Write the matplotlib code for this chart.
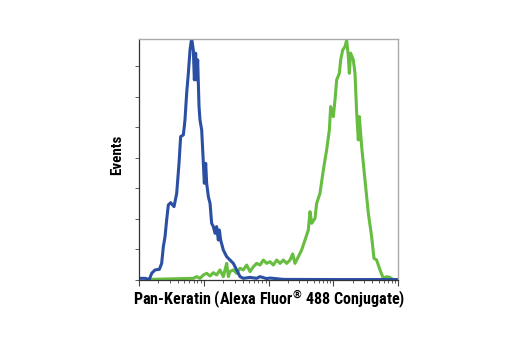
import matplotlib
matplotlib.use("Agg")
import matplotlib.pyplot as plt
from matplotlib import font_manager
import numpy as np

# Log10 fluorescence intensity and event counts
blue_log = [0.015, 0.093, 0.160, 0.196, 0.247, 0.314, 0.350, 0.376, 0.402, 0.427, 0.453, 0.489,
            0.541, 0.582, 0.618, 0.643, 0.685, 0.710, 0.736, 0.762, 0.788, 0.813, 0.839, 0.855,
            0.875, 0.891, 0.906, 0.927, 0.942, 0.968, 0.994, 1.009, 1.030, 1.045, 1.071, 1.097,
            1.122, 1.148, 1.174, 1.199, 1.225, 1.241, 1.261, 1.302, 1.354, 1.405, 1.457, 1.508,
            1.560, 1.611, 1.714, 1.817, 1.869, 1.972, 2.023, 2.229, 3.0, 4.0]
blue_counts = [1.1, 1.1, 0.4, 4.4, 6.6, 7.0, 10.9, 21.9, 28.4, 39.3, 49.2, 50.7,
               48.1, 56.8, 76.5, 94.0, 95.1, 104.9, 122.4, 135.5, 150.8, 158.5, 150.8, 131.2,
               148.7, 131.2, 144.3, 113.7, 104.9, 98.4, 76.5, 63.4, 76.5, 63.4, 54.7, 50.3,
               37.2, 35.0, 30.6, 35.0, 26.2, 32.8, 26.2, 19.7, 15.3, 13.1, 10.9, 6.6,
               2.2, 1.1, 1.7, 1.1, 2.2, 0.9, 1.3, 0.4, 0.3, 0.3]

green_log = [0.160, 0.839, 0.891, 0.942, 0.994, 1.045, 1.097, 1.148, 1.199, 1.251, 1.302, 1.328,
             1.354, 1.380, 1.405, 1.457, 1.508, 1.560, 1.611, 1.663, 1.714, 1.766, 1.817, 1.869,
             1.920, 1.972, 2.023, 2.075, 2.126, 2.178, 2.229, 2.281, 2.332, 2.373, 2.409, 2.461,
             2.512, 2.564, 2.615, 2.641, 2.667, 2.718, 2.744, 2.795, 2.847, 2.898, 2.940, 2.960,
             3.001, 3.027, 3.053, 3.094, 3.115, 3.146, 3.182, 3.207, 3.233, 3.248, 3.269, 3.310,
             3.336, 3.362, 3.387, 3.403, 3.439, 3.490, 3.542, 3.593, 3.629, 3.670, 3.722, 3.773,
             3.825, 3.876, 3.918]
green_counts = [0.4, 1.1, 2.2, 1.1, 3.3, 4.4, 2.6, 4.8, 3.3, 6.6, 2.2, 6.6,
                10.9, 2.2, 5.5, 6.6, 4.4, 7.7, 6.6, 9.8, 5.5, 8.7, 10.9, 9.8,
                13.1, 10.9, 12.0, 9.8, 13.1, 10.9, 13.1, 10.9, 13.1, 17.1, 10.9, 15.3,
                19.7, 26.2, 32.8, 44.8, 37.2, 40.4, 50.3, 56.8, 72.1, 85.3, 98.4, 113.7,
                107.1, 118.0, 131.2, 135.5, 144.3, 150.8, 153.0, 157.4, 146.5, 135.5, 148.7, 144.3,
                135.5, 109.3, 91.8, 107.1, 87.4, 65.6, 43.7, 28.4, 14.2, 13.1, 6.6, 1.1,
                2.2, 1.7, 0.4]

x_label = "Pan-Keratin (Alexa Fluor$^{\u00ae}$ 488 Conjugate)"
y_label = "Events"

fam = ["Roboto Condensed", "DejaVu Sans"]
plt.rcParams["mathtext.fontset"] = "custom"
plt.rcParams["mathtext.rm"] = "Roboto Condensed:bold"
plt.rcParams["mathtext.bf"] = "Roboto Condensed:bold"

fig = plt.figure(figsize=(5.2, 3.5), dpi=100)
ax = fig.add_axes([139/520, 70/350, (398-139)/520, (280-39)/350])

ax.plot(10**np.array(green_log), green_counts, color="#66bd3f", lw=2.2, solid_joinstyle="round")
ax.plot(10**np.array(blue_log), blue_counts, color="#2b4fa3", lw=2.2, solid_joinstyle="round")

ax.set_xscale("log")
ax.set_xlim(1, 1e4)
ax.set_ylim(0, 158)
ax.set_yticks(np.arange(0, 158, 20))
ax.set_yticklabels([])
ax.xaxis.set_minor_formatter(matplotlib.ticker.NullFormatter())
ax.set_xticklabels([])
ax.tick_params(axis="x", which="major", length=4, width=0.8, color="#444444")
ax.tick_params(axis="x", which="minor", length=2.5, width=0.6, color="#444444")
ax.tick_params(axis="y", which="major", length=3, width=0.6, color="#444444")

for s in ["top", "right"]:
    ax.spines[s].set_color("#aaaaaa")
    ax.spines[s].set_linewidth(1.0)
for s in ["left", "bottom"]:
    ax.spines[s].set_color("#333333")
    ax.spines[s].set_linewidth(0.9)

ax.set_xlabel(x_label, fontsize=11.6, fontweight="bold", family=fam)
ax.set_ylabel(y_label, fontsize=10.8, fontweight="bold", family=fam)
ax.xaxis.set_label_coords(0.502, -0.036)
ax.yaxis.set_label_coords(-0.058, 0.52)

fig.savefig("out.png", dpi=100)
